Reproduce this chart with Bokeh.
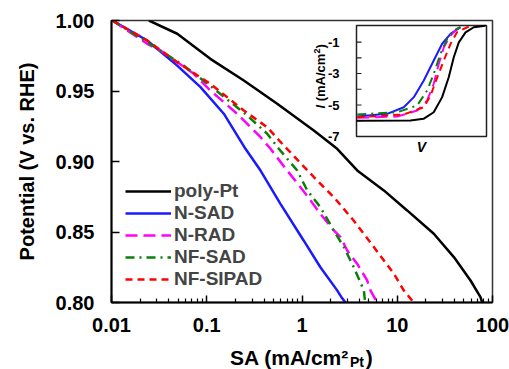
import math
from bokeh.plotting import figure
from bokeh.models import (Range1d, LinearScale, FixedTicker, CustomJSTickFormatter,
                          NumeralTickFormatter, Label)
from bokeh.core.properties import value
from bokeh.embed import file_html
from bokeh.resources import INLINE

# ---------------- data (main plot) ----------------
series_names = ["poly-Pt", "N-SAD", "N-RAD", "NF-SAD", "NF-SIPAD"]

polypt_sa = [0.0247, 0.049, 0.109, 0.245, 0.549, 1.33, 2.34, 3.80, 7.23, 12.7, 24.2, 39.3, 58.8, 74.8, 78.0]
polypt_e = [1.000, 0.9906, 0.9728, 0.9574, 0.9409, 0.922, 0.909, 0.8937, 0.8795, 0.8653, 0.8488, 0.8322, 0.8156, 0.8038, 0.800]

nsad_sa = [0.0102, 0.0237, 0.049, 0.086, 0.151, 0.255, 0.367, 0.594, 1.04, 1.56, 2.34, 2.62, 2.86]
nsad_e = [1.000, 0.9858, 0.968, 0.9527, 0.9339, 0.909, 0.8936, 0.870, 0.844, 0.825, 0.8086, 0.8033, 0.800]

nrad_sa = [0.0102, 0.0237, 0.0327, 0.0731, 0.109, 0.209, 0.367, 0.467, 0.699, 0.964, 1.23, 1.56, 2.16, 2.54, 2.98, 3.79, 4.83, 5.23, 6.15]
nrad_e = [1.000, 0.9835, 0.9787, 0.9622, 0.9504, 0.9338, 0.9173, 0.909, 0.8936, 0.8818, 0.8724, 0.8629, 0.8511, 0.8464, 0.8369, 0.8275, 0.8157, 0.8086, 0.800]

nfsad_sa = [0.0102, 0.0237, 0.0574, 0.119, 0.266, 0.431, 0.571, 0.891, 1.135, 1.56, 2.16, 2.75, 3.50, 4.46, 4.60]
nfsad_e = [1.000, 0.9846, 0.968, 0.9516, 0.9326, 0.9197, 0.909, 0.8936, 0.8795, 0.8676, 0.851, 0.8393, 0.825, 0.8086, 0.800]

nfsipad_sa = [0.0102, 0.0237, 0.049, 0.109, 0.245, 0.431, 0.619, 1.33, 2.16, 3.50, 5.68, 9.21, 11.7, 14.9]
nfsipad_e = [1.000, 0.9858, 0.9704, 0.9551, 0.9362, 0.9243, 0.9126, 0.889, 0.8747, 0.858, 0.8393, 0.8204, 0.8086, 0.800]

# ---------------- data (inset: I vs V) ----------------
in_polypt_v = [0.200, 0.553, 0.638, 0.705, 0.760, 0.803, 0.836, 0.869, 0.913, 0.967, 1.043]
in_polypt_i = [-6.00, -5.98, -5.88, -5.46, -4.50, -3.24, -1.97, -1.02, -0.39, -0.06, 0.04]
in_nsad_v = [0.205, 0.401, 0.509, 0.575, 0.640, 0.705, 0.760, 0.815, 0.880]
in_nsad_i = [-5.73, -5.56, -5.14, -4.50, -3.44, -2.17, -1.11, -0.48, -0.05]
in_nrad_v = [0.205, 0.466, 0.597, 0.662, 0.705, 0.738, 0.771, 0.815, 0.858, 0.880]
in_nrad_i = [-5.81, -5.73, -5.35, -4.71, -3.65, -2.38, -1.33, -0.59, -0.16, -0.02]
in_nfsad_v = [0.205, 0.466, 0.597, 0.662, 0.705, 0.749, 0.793, 0.836, 0.880]
in_nfsad_i = [-5.60, -5.46, -5.03, -4.08, -3.02, -1.75, -0.80, -0.27, -0.05]
in_nfsipad_v = [0.205, 0.509, 0.640, 0.684, 0.728, 0.771, 0.815, 0.858, 0.924, 0.967]
in_nfsipad_i = [-5.78, -5.60, -5.14, -4.40, -3.24, -2.17, -1.11, -0.37, -0.06, -0.02]

y_ticks = [0.80, 0.85, 0.90, 0.95, 1.00]
x_ticks = [0.01, 0.1, 1, 10, 100]
inset_tick_labels = [-1, -3, -5, -7]
inset_ticks = [-1, -2, -3, -4, -5, -6]

# ---------------- styles ----------------
FONT = "Liberation Sans"
colors = ["#000000", "#1a1aff", "#ff00ff", "#0a800a", "#ff0000"]
dashes = ["solid", "solid", "12 6", "9 5 2 5", "7 5"]

# layout constants (pixels)
FL, FR, FT, FB = 111, 492, 20, 302
IL, IR, IT, IB = 356, 486, 25, 136
V0, V1, I0, I1 = 0.2, 1.05, -7.0, 0.05

p = figure(width=509, height=369, x_axis_type="log", x_range=(0.01, 100), y_range=(0.80, 1.00),
           output_backend="svg", toolbar_location=None,
           min_border_left=FL, min_border_right=509 - FR, min_border_top=FT, min_border_bottom=369 - FB)
p.grid.visible = False
p.outline_line_color = "#333333"
p.outline_line_width = 1.5
p.background_fill_color = "white"
p.border_fill_color = "white"

# axes
for ax in (p.xaxis[0], p.yaxis[0]):
    ax.axis_line_width = 2
    ax.axis_line_color = "black"
    ax.major_tick_out = 0
    ax.minor_tick_out = 0
    ax.major_tick_line_width = 1.5
    ax.minor_tick_line_width = 1.2
    ax.major_label_text_font = FONT
    ax.major_label_text_font_style = "bold"
    ax.major_label_text_font_size = "20px"
    ax.major_label_text_color = "black"

minor = [m * 10.0 ** k for k in range(-2, 2) for m in range(2, 10)]
p.xaxis[0].ticker = FixedTicker(ticks=x_ticks, minor_ticks=minor)
p.xaxis[0].formatter = CustomJSTickFormatter(code="return tick.toString();")
p.xaxis[0].major_tick_in = 7
p.xaxis[0].minor_tick_in = 4
p.xaxis[0].major_label_standoff = 15

p.yaxis[0].ticker = FixedTicker(ticks=y_ticks)
p.yaxis[0].formatter = NumeralTickFormatter(format="0.00")
p.yaxis[0].major_tick_in = 8
p.yaxis[0].minor_tick_line_color = None
p.yaxis[0].major_label_standoff = 17
p.yaxis[0].axis_label = "Potential (V vs. RHE)"
p.yaxis[0].axis_label_text_font = FONT
p.yaxis[0].axis_label_text_font_style = "bold"
p.yaxis[0].axis_label_text_font_size = "20px"
p.yaxis[0].axis_label_text_color = "black"
p.yaxis[0].axis_label_standoff = 15

# main curves
main = [(polypt_sa, polypt_e), (nsad_sa, nsad_e), (nrad_sa, nrad_e), (nfsad_sa, nfsad_e), (nfsipad_sa, nfsipad_e)]
for (xs, ys), name, c, d in zip(main, series_names, colors, dashes):
    p.line(xs, ys, color=c, line_width=2.5, line_dash=d, legend_label=name)

leg = p.legend[0]
leg.location = (14, 12)
leg.label_text_font = FONT
leg.label_text_font_style = "bold"
leg.label_text_font_size = "19px"
leg.glyph_width = 46
leg.glyph_height = 20
leg.label_height = 20
leg.spacing = -1
leg.padding = 0
leg.margin = 0
leg.label_standoff = 3
leg.border_line_color = None
leg.background_fill_alpha = 0

# x axis label: main text in the bottom panel, subscript "Pt" held by the (empty) right panel
NB = "\u00a0"
p.add_layout(Label(x=1, y=0.80, x_units="data", y_units="data", x_offset=-72, y_offset=-55,
                   text="SA (mA/cm\u00b2" + NB * 3 + ")", text_font=FONT, text_font_style="bold",
                   text_font_size="21px", text_align="left", text_baseline="alphabetic",
                   text_color="black"), "below")
p.add_layout(Label(x=1, y=0.80, x_units="data", y_units="data", x_offset=48, y_offset=-59,
                   text="Pt", text_font=FONT, text_font_style="bold", text_font_size="14px",
                   text_align="left", text_baseline="alphabetic", text_color="black"), "right")

# ---------------- inset on extra (linear) ranges ----------------
vpp = (V1 - V0) / (IR - IL)
ipp = (I1 - I0) / (IB - IT)
p.extra_x_ranges = {"ix": Range1d(V0 - (IL - FL) * vpp, V1 + (FR - IR) * vpp)}
p.extra_x_scales = {"ix": LinearScale()}
p.extra_y_ranges = {"iy": Range1d(I0 - (FB - IB) * ipp, I1 + (IT - FT) * ipp)}
kw = dict(x_range_name="ix", y_range_name="iy")

p.quad(left=[V0], right=[V1], bottom=[I0], top=[I1], fill_color="white", line_color="#222222",
       line_width=1.5, **kw)
p.ray(x=[V0] * len(inset_ticks), y=inset_ticks, length=5, angle=0, length_units="screen",
      line_color="#222222", line_width=1.2, **kw)

inset = [(in_polypt_v, in_polypt_i), (in_nsad_v, in_nsad_i), (in_nrad_v, in_nrad_i),
         (in_nfsad_v, in_nfsad_i), (in_nfsipad_v, in_nfsipad_i)]
for (xs, ys), c, d in zip(inset, colors, dashes):
    p.line(xs, ys, color=c, line_width=2, line_dash=d, **kw)

p.text(x=[V0] * len(inset_tick_labels), y=inset_tick_labels, text=[str(v) for v in inset_tick_labels],
       x_offset=-17, text_align="right", text_baseline="middle", text_font=value(FONT),
       text_font_style="bold", text_font_size="13px", text_color="black", **kw)
p.text(x=[(V0 + V1) / 2], y=[I0], text=["V"], y_offset=10, text_align="center", text_baseline="middle",
       text_font=value(FONT), text_font_style="bold italic", text_font_size="14px", text_color="black", **kw)

# rotated inset y label: I (mA/cm^2)
yl = [("I", "bold italic", "13px", -36, -28), ("(mA/cm", "bold", "13px", -36, -35.2),
      ("2", "bold", "9px", -40, -82.9), (")", "bold", "13px", -36, -87.9)]
for t, st, fs, dx, dy in yl:
    p.text(x=[V0], y=[I0], text=[t], x_offset=dx, y_offset=dy, angle=math.pi / 2,
           text_align="left", text_baseline="middle", text_font=value(FONT), text_font_style=st,
           text_font_size=fs, text_color="black", **kw)

open("out.html", "w").write(file_html(p, INLINE))
